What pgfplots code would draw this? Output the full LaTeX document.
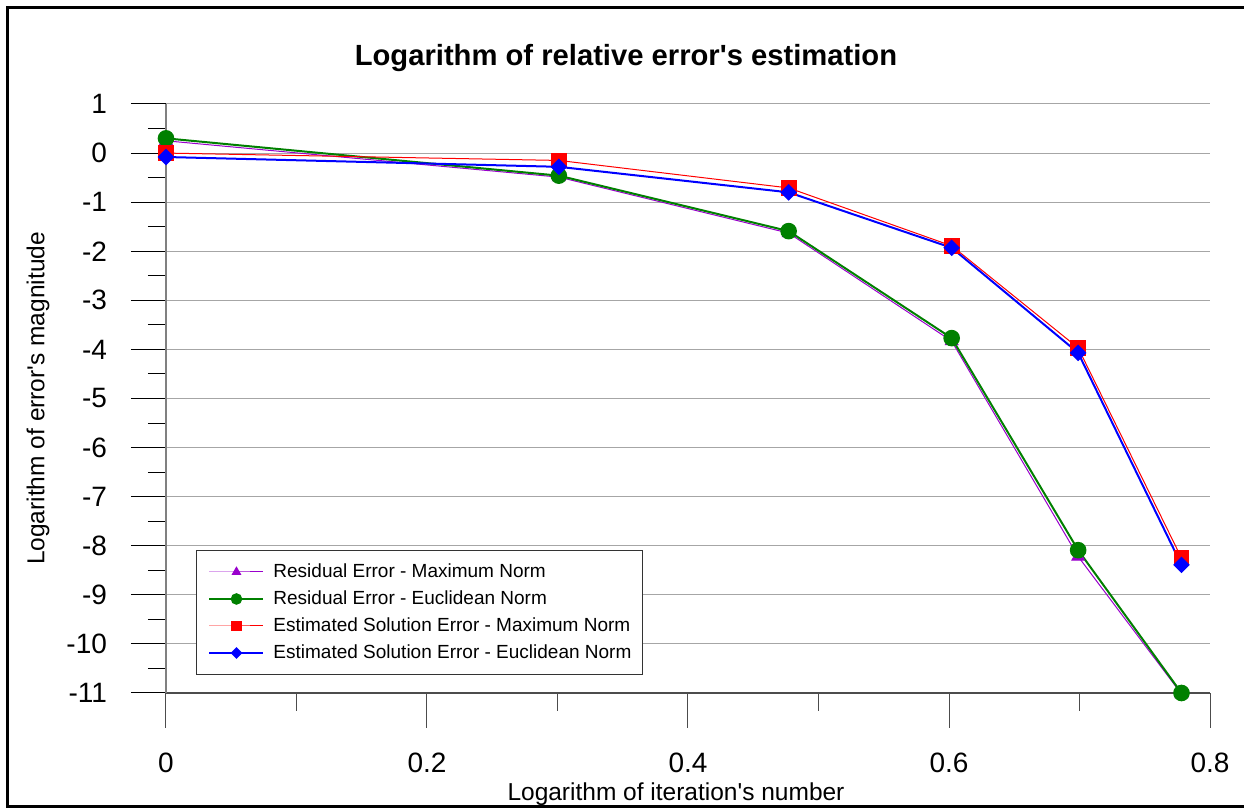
\documentclass[border=0pt]{standalone}
\usepackage{fontspec}
\setmainfont{Liberation Sans}
\usepackage{pgfplots}
\pgfplotsset{compat=1.18}

\definecolor{resmax}{RGB}{153,0,204}
\definecolor{reseuc}{RGB}{0,128,0}
\definecolor{solmax}{RGB}{255,0,0}
\definecolor{soleuc}{RGB}{0,0,255}

\begin{document}
\begin{tikzpicture}
\useasboundingbox (0,0) rectangle (622pt,404pt);
\begin{scope}
  \clip (0,0) rectangle (622pt,404pt);
  \draw[line width=1.5pt] (3.8pt,0.7pt) rectangle (650pt,400.2pt);
\end{scope}
\begin{axis}[
  at={(83pt,57.5pt)}, anchor=south west,
  scale only axis, width=522pt, height=294.5pt,
  xmin=0, xmax=0.8, ymin=-11, ymax=1,
  clip=false,
  axis x line*=bottom, axis y line*=left,
  x axis line style={color=black!70, line width=0.6pt},
  y axis line style={color=gray, line width=0.6pt},
  xtick={0,0.2,0.4,0.6,0.8},
  minor xtick={0.1,0.3,0.5,0.7},
  ytick={-11,-10,...,1},
  minor ytick={-10.5,-9.5,...,0.5},
  tick align=outside,
  major tick length=17.5pt, minor tick length=9pt,
  x tick style={color=black!70, line width=0.5pt},
  y tick style={color=black, line width=0.5pt},
  ymajorgrids,
  grid style={color=gray!70, line width=0.5pt},
  /pgf/number format/assume math mode=true,
  ticklabel style={font=\fontsize{14}{16}\selectfont},
  xticklabel style={yshift=-9pt},
  yticklabel style={xshift=-8.5pt},
  title={Logarithm of relative error\textquotesingle s estimation},
  title style={font=\bfseries\fontsize{14.6}{17}\selectfont,
    at={(axis description cs:0.4406,1.0458)}, anchor=base, yshift=0pt},
  xlabel={Logarithm of iteration\textquotesingle s number},
  xlabel style={font=\fontsize{12.25}{14}\selectfont,
    at={(axis description cs:0.4885,-0.1817)}, anchor=base},
  ylabel={Logarithm of error\textquotesingle s magnitude},
  ylabel style={font=\fontsize{12.25}{14}\selectfont,
    at={(axis description cs:-0.1226,0.5)}, anchor=center},
  legend style={at={(axis description cs:0.0287,0.2428)}, anchor=north west,
    draw=black!80, line width=0.5pt,
    font=\fontsize{9.5}{11}\selectfont,
    inner xsep=4pt, inner ysep=4pt,
    nodes={inner sep=1.5pt, text height=8pt, text depth=2.5pt}},
  legend cell align=left,
  legend image code/.code={
    \path (0pt,0pt) (32pt,0pt);
    \draw[mark repeat=2,mark phase=2,#1,every mark/.append style={scale=0.65}]
      plot coordinates {(2pt,0pt) (15.5pt,0pt) (29pt,0pt)};
  },
]
\addplot[color=resmax, line width=0.5pt, mark=triangle*, mark size=3.6pt]
  coordinates {(0,0.25) (0.30103,-0.49) (0.47712,-1.63) (0.60206,-3.83) (0.69897,-8.22) (0.77815,-11.02)};
\addlegendentry{Residual Error - Maximum Norm}
\addplot[color=reseuc, line width=1pt, mark=*, mark size=3.65pt]
  coordinates {(0,0.30) (0.30103,-0.46) (0.47712,-1.59) (0.60206,-3.77) (0.69897,-8.09) (0.77815,-11.0)};
\addlegendentry{Residual Error - Euclidean Norm}
\addplot[color=solmax, line width=0.5pt, mark=square*, mark size=3.7pt]
  coordinates {(0,0.0) (0.30103,-0.15) (0.47712,-0.71) (0.60206,-1.89) (0.69897,-3.97) (0.77815,-8.25)};
\addlegendentry{Estimated Solution Error - Maximum Norm}
\addplot[color=soleuc, line width=1pt, mark=square*, mark size=2.45pt, mark options={rotate=45}]
  coordinates {(0,-0.08) (0.30103,-0.28) (0.47712,-0.80) (0.60206,-1.93) (0.69897,-4.07) (0.77815,-8.39)};
\addlegendentry{Estimated Solution Error - Euclidean Norm}
\end{axis}
\end{tikzpicture}
\end{document}
